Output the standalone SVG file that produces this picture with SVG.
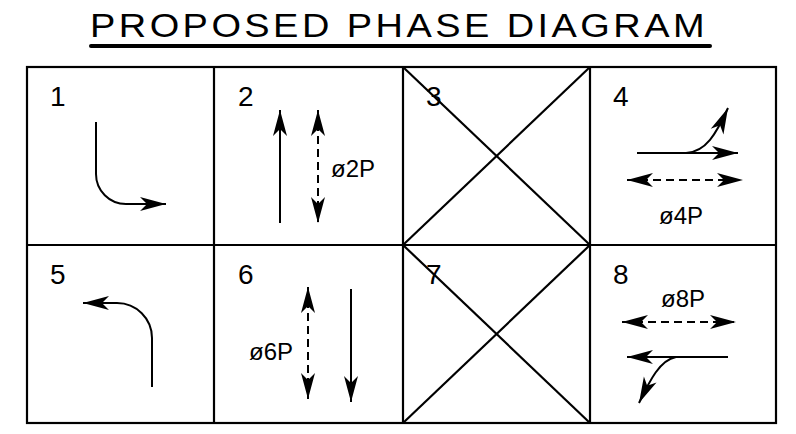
<svg xmlns="http://www.w3.org/2000/svg" width="796" height="434" viewBox="0 0 796 434">
<style>
.grid{fill:none;stroke:#000;stroke-width:2.2}
.ar{fill:none;stroke:#000;stroke-width:2;marker-end:url(#ah)}
.da{fill:none;stroke:#000;stroke-width:2;stroke-dasharray:8 5;marker-end:url(#ah);marker-start:url(#ahs)}
.num{font-family:"Liberation Sans",Arial,sans-serif;font-size:28px;fill:#000}
.lbl{font-family:"Liberation Sans",Arial,sans-serif;font-size:24px;fill:#000}
.ttl{font-family:"Liberation Sans",Arial,sans-serif;font-size:33px;fill:#000;letter-spacing:3px}
</style>
<defs>
<marker id="ah" viewBox="-27 -8 28 16" refX="0" refY="0" markerWidth="28" markerHeight="16" markerUnits="userSpaceOnUse" orient="auto">
<path d="M0,0 L-26,-7 L-19,0 L-26,7 Z" fill="#000"/>
</marker>
<marker id="ahs" viewBox="-27 -8 28 16" refX="0" refY="0" markerWidth="28" markerHeight="16" markerUnits="userSpaceOnUse" orient="auto-start-reverse">
<path d="M0,0 L-26,-7 L-19,0 L-26,7 Z" fill="#000"/>
</marker>
</defs>
<rect width="796" height="434" fill="#fff"/>
<g id="title">
<text class="ttl" x="90" y="37" textLength="618" lengthAdjust="spacingAndGlyphs">PROPOSED PHASE DIAGRAM</text>
<line x1="91" y1="46" x2="710" y2="46" stroke="#000" stroke-width="4" stroke-linecap="round"/>
</g>
<g id="grid">
<rect class="grid" x="27" y="67" width="749" height="356"/>
<line class="grid" x1="27" y1="245" x2="776" y2="245"/>
<line class="grid" x1="214" y1="67" x2="214" y2="423"/>
<line class="grid" x1="403" y1="67" x2="403" y2="423"/>
<line class="grid" x1="590" y1="67" x2="590" y2="423"/>
</g>
<g id="cell1">
<text class="num" x="50" y="106">1</text>
</g>
<g id="cell2">
<text class="num" x="238" y="106">2</text>
<text class="lbl" x="331" y="177">ø2P</text>
</g>
<g id="cell3">
<text class="num" x="426" y="106">3</text>
<line class="grid" x1="403" y1="67" x2="590" y2="245"/>
<line class="grid" x1="590" y1="67" x2="403" y2="245"/>
</g>
<g id="cell4">
<text class="num" x="613" y="106">4</text>
<text class="lbl" x="659" y="224">ø4P</text>
</g>
<g id="cell5">
<text class="num" x="50" y="284">5</text>
</g>
<g id="cell6">
<text class="num" x="238" y="284">6</text>
<text class="lbl" x="249" y="360">ø6P</text>
</g>
<g id="cell7">
<text class="num" x="426" y="284">7</text>
<line class="grid" x1="403" y1="245" x2="590" y2="423"/>
<line class="grid" x1="590" y1="245" x2="403" y2="423"/>
</g>
<g id="cell8">
<text class="num" x="613" y="284">8</text>
<text class="lbl" x="661" y="307">ø8P</text>
</g>
<g id="connectors">
<path class="ar" d="M96,122 V174 A30,30 0 0 0 126,204 H166"/>
<path class="ar" d="M280,223 V110"/>
<path class="da" d="M318,110 V223"/>
<path class="ar" d="M637,153 H738"/>
<path class="ar" d="M686,153 C706,152 716,134 728,108"/>
<path class="da" d="M627,180 H743"/>
<path class="ar" d="M152,387 V338 A35,35 0 0 0 117,303 H83"/>
<path class="da" d="M308,287 V399"/>
<path class="ar" d="M351,289 V402"/>
<path class="da" d="M622,322 H736"/>
<path class="ar" d="M728,357 H627"/>
<path class="ar" d="M676,357 C660,360 650,380 639,403"/>
</g>
</svg>
